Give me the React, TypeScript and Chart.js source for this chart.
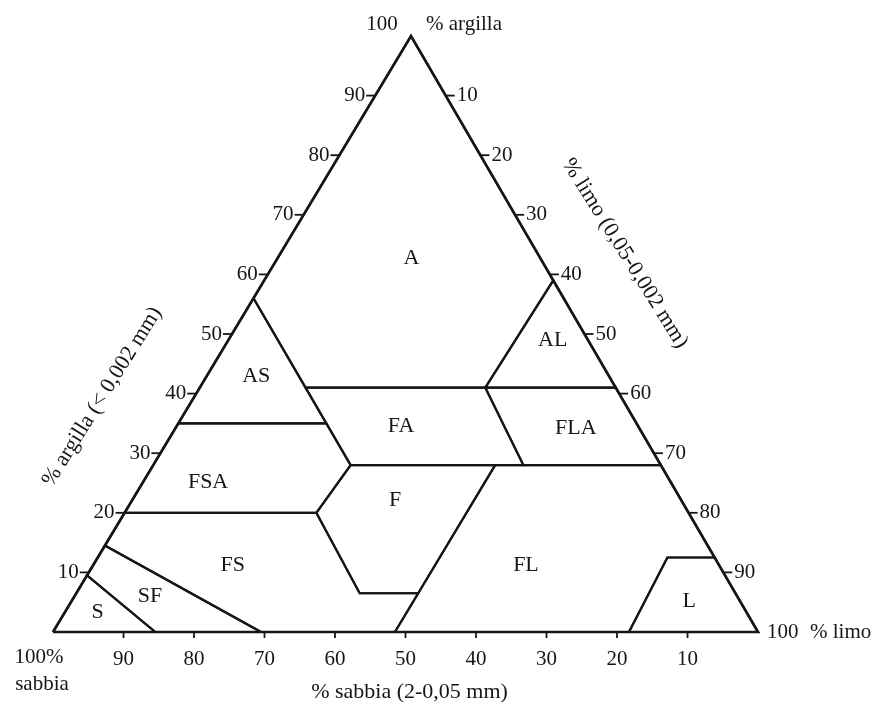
import { useEffect, useRef } from "react";
import { Chart, registerables } from "chart.js";

Chart.register(...registerables);

// Ternary points written as [sand %, clay %]; silt % = 100 - sand - clay
const triangleOutline = [[100, 0], [0, 0], [0, 100], [100, 0]];

const polyS = [[100, 0], [85.5, 0], [90.5, 9.5]];
const polySF = [[85.5, 0], [70.5, 0], [85.5, 14.5], [90.5, 9.5]];
const polyFS = [[70.5, 0], [51.5, 0], [45, 6.5], [53.3, 6.5], [52.8, 20], [80, 20], [85.5, 14.5]];
const polyF = [[45, 6.5], [53.3, 6.5], [52.8, 20], [44, 28], [23.5, 28]];
const polyFL = [[51.5, 0], [18.3, 0], [6.7, 12.5], [0, 12.5], [0, 28], [23.5, 28], [45, 6.5]];
const polyL = [[18.3, 0], [0, 0], [0, 12.5], [6.7, 12.5]];
const polyFSA = [[80, 20], [52.8, 20], [44, 28], [44, 35], [65, 35]];
const polyFA = [[44, 28], [19.5, 28], [18.5, 41], [44, 41]];
const polyFLA = [[19.5, 28], [0, 28], [0, 41], [18.5, 41]];
const polyAS = [[65, 35], [44, 35], [44, 56]];
const polyAL = [[18.5, 41], [0, 41], [0, 59]];
const polyA = [[44, 56], [44, 41], [18.5, 41], [0, 59], [0, 100]];

const classPolygons = [polyS, polySF, polyFS, polyF, polyFL, polyL, polyFSA, polyFA, polyFLA, polyAS, polyAL, polyA];
const classNames = ["S", "SF", "FS", "F", "FL", "L", "FSA", "FA", "FLA", "AS", "AL", "A"];
const classLabelPos = [
  [92, 3.4], [83.3, 6], [69, 11.2], [40.6, 22.1], [27.4, 11.2], [7.2, 5.2],
  [65.6, 25.2], [33.6, 34.6], [9, 34.2], [50, 43], [5, 49], [18.3, 62.7],
];

const tickValues = [10, 20, 30, 40, 50, 60, 70, 80, 90];
const clayTickLabels = ["10", "20", "30", "40", "50", "60", "70", "80", "90"];
const siltTickLabels = ["10", "20", "30", "40", "50", "60", "70", "80", "90"];
const sandTickLabels = ["10", "20", "30", "40", "50", "60", "70", "80", "90"];

const TOP_SKEW = 0.5078; // horizontal position of the clay apex (fraction of base)

function toXY(sand: number, clay: number) {
  const silt = 100 - sand - clay;
  return { x: silt + TOP_SKEW * clay, y: clay };
}

const INK = "#161616";
const SERIF = '"Liberation Serif", "DejaVu Serif", serif';

const textPlugin = {
  id: "soilText",
  afterDatasetsDraw(chart: any) {
    const { ctx } = chart;
    const xs = chart.scales.x;
    const ys = chart.scales.y;
    const P = (sand: number, clay: number) => {
      const d = toXY(sand, clay);
      return [xs.getPixelForValue(d.x), ys.getPixelForValue(d.y)];
    };
    const seg = (x1: number, y1: number, x2: number, y2: number) => {
      ctx.beginPath();
      ctx.moveTo(x1, y1);
      ctx.lineTo(x2, y2);
      ctx.stroke();
    };
    ctx.save();
    ctx.fillStyle = INK;
    ctx.strokeStyle = INK;
    ctx.lineWidth = 1.8;
    ctx.font = `21px ${SERIF}`;
    ctx.textBaseline = "middle";

    // clay ticks (left edge)
    tickValues.forEach((v, i) => {
      const [px, py] = P(100 - v, v);
      seg(px - 9, py, px, py);
      ctx.textAlign = "right";
      ctx.fillText(clayTickLabels[i], px - 10, py);
    });
    // silt ticks (right edge)
    tickValues.forEach((v, i) => {
      const [px, py] = P(0, 100 - v);
      seg(px, py, px + 9, py);
      ctx.textAlign = "left";
      ctx.fillText(siltTickLabels[i], px + 11, py);
    });
    // sand ticks (bottom edge)
    tickValues.forEach((v, i) => {
      const [px, py] = P(v, 0);
      seg(px, py, px, py + 6);
      ctx.textAlign = "center";
      ctx.fillText(sandTickLabels[i], px, py + 27);
    });

    // corner labels
    const [tx, ty] = P(0, 100);
    ctx.textAlign = "center";
    ctx.fillText("100", tx - 29, ty - 12);
    ctx.textAlign = "left";
    ctx.fillText("% argilla", tx + 15, ty - 12);

    const [rx, ry] = P(0, 0);
    ctx.textAlign = "left";
    ctx.fillText("100", rx + 9, ry);
    ctx.fillText("% limo", rx + 52, ry);

    const [lx, ly] = P(100, 0);
    ctx.textAlign = "center";
    ctx.fillText("100%", lx - 14, ly + 25);
    ctx.fillText("sabbia", lx - 11, ly + 52);

    // axis titles
    const [bx, by] = P(50, 0);
    ctx.font = `22px ${SERIF}`;
    ctx.textAlign = "center";
    ctx.fillText("% sabbia (2-0,05 mm)", bx + 4, by + 60);

    const [clx, cly] = P(60, 40);
    ctx.save();
    ctx.translate(clx - 94, cly + 3);
    ctx.rotate((-58 * Math.PI) / 180);
    ctx.fillText("% argilla (< 0,002 mm)", 0, 0);
    ctx.restore();

    const [slx, sly] = P(0, 60);
    ctx.save();
    ctx.translate(slx + 75, sly - 21);
    ctx.rotate((58 * Math.PI) / 180);
    ctx.fillText("% limo (0,05-0,002 mm)", 0, 0);
    ctx.restore();

    // class labels
    ctx.font = `22px ${SERIF}`;
    ctx.textAlign = "center";
    classNames.forEach((name, i) => {
      const [px, py] = P(classLabelPos[i][0], classLabelPos[i][1]);
      ctx.fillText(name, px, py);
    });
    ctx.restore();
  },
};

const bgPlugin = {
  id: "bg",
  beforeDraw(chart: any) {
    const { ctx, width, height } = chart;
    ctx.save();
    ctx.fillStyle = "#ffffff";
    ctx.fillRect(0, 0, width, height);
    ctx.restore();
  },
};

export default function App() {
  const ref = useRef<HTMLCanvasElement>(null);
  useEffect(() => {
    const toData = (pts: number[][]) => pts.map((p) => toXY(p[0], p[1]));
    const closed = (pts: number[][]) => [...pts, pts[0]];
    const datasets: any[] = classPolygons.map((poly, i) => ({
      label: classNames[i],
      data: toData(closed(poly)),
      showLine: true,
      borderColor: INK,
      borderWidth: 2.2,
      pointRadius: 0,
      fill: false,
      tension: 0,
      clip: false,
      borderJoinStyle: "miter",
    }));
    datasets.push({
      label: "triangle",
      data: toData(triangleOutline),
      showLine: true,
      borderColor: INK,
      borderWidth: 2.6,
      pointRadius: 0,
      fill: false,
      tension: 0,
      clip: false,
      borderJoinStyle: "miter",
    });
    const chart = new Chart(ref.current as HTMLCanvasElement, {
      type: "scatter",
      data: { datasets },
      options: {
        animation: false,
        responsive: false,
        devicePixelRatio: 1,
        events: [],
        layout: { padding: { left: 53, right: 125, top: 36, bottom: 76 } },
        plugins: { legend: { display: false }, tooltip: { enabled: false } },
        scales: {
          x: { type: "linear", min: 0, max: 100, display: false },
          y: { type: "linear", min: 0, max: 100, display: false },
        },
      },
      plugins: [bgPlugin, textPlugin],
    } as any);
    return () => chart.destroy();
  }, []);
  return (
    <div style={{ position: "absolute", left: 0, top: 0, width: 883, height: 708, background: "#fff" }}>
      <canvas ref={ref} width={883} height={708} style={{ display: "block" }} />
    </div>
  );
}
